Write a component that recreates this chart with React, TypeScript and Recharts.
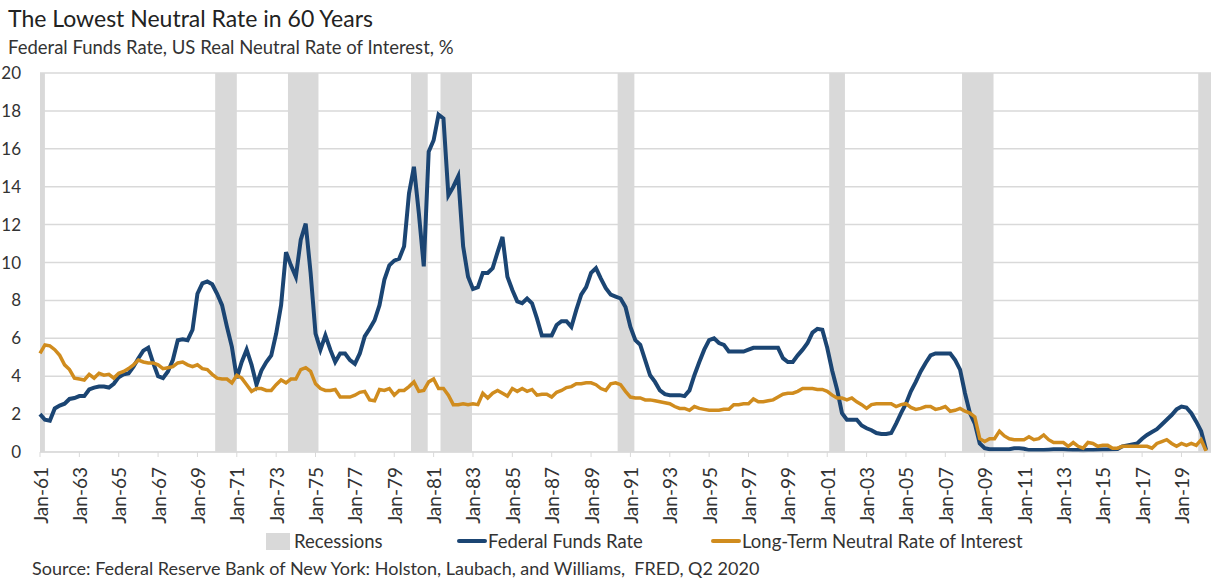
import React from 'react';
import { ComposedChart, Line, XAxis, YAxis, CartesianGrid, ReferenceArea } from 'recharts';

// Quarterly series, 1961Q1 through 2020Q2 (238 quarters)
const START_YEAR = 1961;

const fedFundsRate = [
  2.0, 1.7, 1.65, 2.3, 2.45, 2.55, 2.8, 2.85, 2.95, 2.95,
  3.3, 3.4, 3.45, 3.45, 3.4, 3.6, 3.95, 4.1, 4.15, 4.5,
  4.95, 5.35, 5.5, 4.7, 4.0, 3.9, 4.25, 4.85, 5.9, 5.95,
  5.9, 6.45, 8.35, 8.9, 9.0, 8.85, 8.35, 7.75, 6.6, 5.55,
  3.9, 4.75, 5.4, 4.6, 3.55, 4.3, 4.75, 5.1, 6.25, 7.75,
  10.55, 9.85, 9.25, 11.2, 12.05, 9.45, 6.25, 5.4, 6.15, 5.4,
  4.75, 5.2, 5.2, 4.85, 4.65, 5.2, 6.1, 6.5, 6.95, 7.75,
  9.1, 9.85, 10.1, 10.2, 10.85, 13.65, 15.05, 12.6, 9.8, 15.85,
  16.45, 17.8, 17.6, 13.55, 14.0, 14.55, 10.85, 9.25, 8.6, 8.7,
  9.45, 9.45, 9.7, 10.55, 11.35, 9.25, 8.55, 7.95, 7.85, 8.1,
  7.85, 7.05, 6.15, 6.15, 6.15, 6.7, 6.9, 6.9, 6.6, 7.5,
  8.3, 8.7, 9.45, 9.7, 9.15, 8.65, 8.3, 8.2, 8.1, 7.65,
  6.6, 5.9, 5.65, 4.85, 4.05, 3.7, 3.25, 3.05, 3.0, 3.0,
  3.0, 2.95, 3.25, 4.05, 4.75, 5.4, 5.9, 6.0, 5.75, 5.65,
  5.3, 5.3, 5.3, 5.3, 5.4, 5.5, 5.5, 5.5, 5.5, 5.5,
  5.5, 4.95, 4.75, 4.75, 5.1, 5.4, 5.75, 6.3, 6.5, 6.45,
  5.5, 4.3, 3.3, 2.05, 1.7, 1.7, 1.7, 1.4, 1.25, 1.15,
  1.0, 0.95, 0.95, 1.0, 1.5, 2.05, 2.55, 3.2, 3.7, 4.25,
  4.7, 5.1, 5.2, 5.2, 5.2, 5.2, 4.85, 4.35, 3.1, 2.05,
  1.5, 0.45, 0.2, 0.15, 0.15, 0.15, 0.15, 0.15, 0.2, 0.2,
  0.17, 0.1, 0.1, 0.1, 0.1, 0.12, 0.14, 0.15, 0.15, 0.12,
  0.1, 0.1, 0.09, 0.1, 0.1, 0.12, 0.13, 0.13, 0.14, 0.16,
  0.3, 0.35, 0.4, 0.45, 0.7, 0.9, 1.05, 1.2, 1.45, 1.7,
  1.95, 2.25, 2.4, 2.35, 2.05, 1.6, 1.1, 0.1,
];

const neutralRate = [
  5.2, 5.65, 5.6, 5.4, 5.1, 4.6, 4.35, 3.9, 3.85, 3.8,
  4.1, 3.9, 4.15, 4.05, 4.1, 3.9, 4.15, 4.25, 4.4, 4.6,
  4.85, 4.75, 4.7, 4.7, 4.6, 4.4, 4.45, 4.5, 4.7, 4.75,
  4.6, 4.5, 4.6, 4.4, 4.35, 4.1, 3.9, 3.85, 3.85, 3.65,
  4.05, 3.9, 3.55, 3.2, 3.35, 3.35, 3.25, 3.25, 3.55, 3.8,
  3.65, 3.85, 3.85, 4.35, 4.45, 4.25, 3.6, 3.35, 3.25, 3.25,
  3.3, 2.9, 2.9, 2.9, 3.0, 3.15, 3.2, 2.75, 2.7, 3.3,
  3.25, 3.35, 3.0, 3.25, 3.25, 3.45, 3.7, 3.2, 3.25, 3.7,
  3.85, 3.35, 3.35, 3.0, 2.5, 2.5, 2.55, 2.5, 2.55, 2.5,
  3.1, 2.85, 3.1, 3.25, 3.1, 2.95, 3.35, 3.2, 3.35, 3.2,
  3.3, 3.0, 3.05, 3.05, 2.9, 3.15, 3.25, 3.4, 3.45, 3.6,
  3.6, 3.65, 3.65, 3.55, 3.35, 3.25, 3.6, 3.65, 3.55, 3.2,
  2.9, 2.85, 2.85, 2.75, 2.75, 2.7, 2.65, 2.6, 2.55, 2.4,
  2.3, 2.3, 2.2, 2.4, 2.3, 2.25, 2.2, 2.2, 2.2, 2.25,
  2.25, 2.5, 2.5, 2.55, 2.55, 2.8, 2.65, 2.65, 2.7, 2.75,
  2.9, 3.05, 3.1, 3.1, 3.2, 3.35, 3.35, 3.35, 3.3, 3.3,
  3.2, 3.0, 2.85, 2.85, 2.75, 2.85, 2.65, 2.5, 2.3, 2.5,
  2.55, 2.55, 2.55, 2.55, 2.4, 2.5, 2.55, 2.35, 2.25, 2.3,
  2.4, 2.4, 2.25, 2.3, 2.4, 2.15, 2.2, 2.3, 2.15, 2.05,
  1.85, 0.7, 0.55, 0.7, 0.7, 1.1, 0.85, 0.7, 0.65, 0.65,
  0.65, 0.8, 0.65, 0.7, 0.9, 0.65, 0.5, 0.5, 0.5, 0.3,
  0.5, 0.3, 0.2, 0.5, 0.45, 0.3, 0.35, 0.35, 0.2, 0.2,
  0.3, 0.3, 0.3, 0.3, 0.3, 0.3, 0.2, 0.45, 0.55, 0.65,
  0.45, 0.3, 0.45, 0.35, 0.45, 0.35, 0.65, 0.05,
];

// NBER recessions as [start, end] in decimal years
const recessions: [number, number][] = [
  [1961.0, 1961.25],
  [1969.9, 1971.0],
  [1973.6, 1975.15],
  [1979.85, 1980.7],
  [1981.35, 1982.95],
  [1990.35, 1991.2],
  [2001.1, 2001.9],
  [2007.85, 2009.45],
  [2019.85, 2020.5],
];

const yTicks = [0, 2, 4, 6, 8, 10, 12, 14, 16, 18, 20];
// one label every two years, counted in quarters from Jan-61
const xTicks = Array.from({ length: 30 }, (_, i) => i * 8);

const NAVY = '#1b4573';
const GOLD = '#d08c1e';
const GRID = '#d9d9d9';
const TEXT = '#333333';
const FONT = 'Lato, "Noto Sans", sans-serif';

const data = fedFundsRate.map((v, i) => ({
  q: i,
  fedFunds: v,
  neutral: neutralRate[i],
}));

const toQuarterIndex = (yr: number) => (yr - START_YEAR) * 4;

const tickLabel = (q: number) => {
  const yr = (START_YEAR + Math.floor(q / 4)) % 100;
  return `Jan-${String(yr).padStart(2, '0')}`;
};

const XTick = ({ x, y, payload }: any) => (
  <text
    x={x}
    y={y}
    transform={`rotate(-90 ${x} ${y})`}
    textAnchor="end"
    dominantBaseline="central"
    fontSize={19}
    fontFamily={FONT}
    fill={TEXT}
  >
    {tickLabel(payload.value)}
  </text>
);

const legendItems = [
  { label: 'Recessions', kind: 'box', color: GRID, left: 266 },
  { label: 'Federal Funds Rate', kind: 'line', color: NAVY, left: 457 },
  { label: 'Long-Term Neutral Rate of Interest', kind: 'line', color: GOLD, left: 711 },
];

export default function App() {
  return (
    <div
      style={{
        position: 'absolute',
        left: 0,
        top: 0,
        width: 1212,
        height: 579,
        background: '#fff',
        fontFamily: FONT,
        color: TEXT,
        overflow: 'hidden',
      }}
    >
      <div style={{ position: 'absolute', left: 8, top: 5, fontSize: 23, lineHeight: '26px', color: '#222', whiteSpace: 'nowrap' }}>
        The Lowest Neutral Rate in 60 Years
      </div>
      <div style={{ position: 'absolute', left: 8, top: 36, fontSize: 18.5, lineHeight: '22px', whiteSpace: 'nowrap' }}>
        Federal Funds Rate, US Real Neutral Rate of Interest, %
      </div>

      <div style={{ position: 'absolute', left: 0, top: 0 }}>
        <ComposedChart width={1212} height={579} data={data} margin={{ top: 73, right: 1, bottom: 57, left: 0 }}>
          <CartesianGrid vertical={false} stroke={GRID} strokeWidth={1.5} />
          <XAxis
            type="number"
            dataKey="q"
            domain={[0, 238]}
            ticks={xTicks}
            interval={0}
            height={70}
            stroke={GRID}
            tickSize={5}
            tickMargin={10}
            tick={<XTick />}
          />
          <YAxis
            domain={[0, 20]}
            ticks={yTicks}
            width={40}
            axisLine={false}
            tickLine={false}
            tickSize={0}
            tickMargin={19}
            tick={{ fontSize: 17, fill: TEXT, fontFamily: FONT }}
          />
          {recessions.map(([from, to], i) => (
            <ReferenceArea
              key={i}
              x1={toQuarterIndex(from)}
              x2={toQuarterIndex(to)}
              y1={0}
              y2={20}
              fill={GRID}
              fillOpacity={1}
              stroke="none"
            />
          ))}
          <Line
            type="linear"
            dataKey="fedFunds"
            stroke={NAVY}
            strokeWidth={4}
            dot={false}
            isAnimationActive={false}
          />
          <Line
            type="linear"
            dataKey="neutral"
            stroke={GOLD}
            strokeWidth={3.5}
            dot={false}
            isAnimationActive={false}
          />
        </ComposedChart>
      </div>

      {legendItems.map((item) => (
        <div
          key={item.label}
          style={{
            position: 'absolute',
            left: item.left,
            top: 529,
            height: 24,
            display: 'flex',
            alignItems: 'center',
            fontSize: 18.5,
            whiteSpace: 'nowrap',
          }}
        >
          {item.kind === 'box' ? (
            <span style={{ display: 'inline-block', width: 24, height: 17, background: item.color, marginRight: 4 }} />
          ) : (
            <span style={{ display: 'inline-block', width: 30, height: 4, background: item.color, borderRadius: 2, marginRight: 1 }} />
          )}
          {item.label}
        </div>
      ))}

      <div style={{ position: 'absolute', left: 32, top: 557, fontSize: 18, lineHeight: '22px', whiteSpace: 'pre' }}>
        Source: Federal Reserve Bank of New York: Holston, Laubach, and Williams,  FRED, Q2 2020
      </div>
    </div>
  );
}
